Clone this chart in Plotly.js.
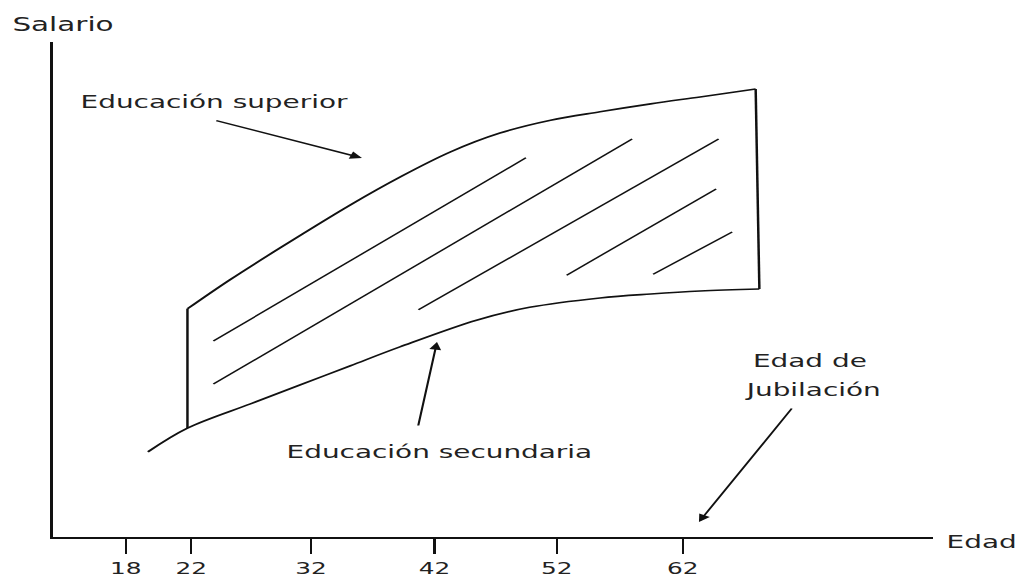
<!DOCTYPE html>
<html>
<head>
<meta charset="utf-8">
<script src="https://cdn.plot.ly/plotly-3.0.1.min.js"></script>
<style>
  html, body { margin: 0; padding: 0; overflow: hidden; background: #fff; }
  #plot { width: 659px; height: 579px; transform: scaleX(1.5493); transform-origin: 0 0; }
</style>
</head>
<body>
<div id="plot"></div>
<script>
// ---- data (age in years, salary in arbitrary index units) ----
const tickAges = [16.9, 22.2, 31.9, 41.9, 51.8, 62];
const tickLabels = ['18', '22', '32', '42', '52', '62'];

const upperAge    = [21.9, 25.3, 29.4, 35.1, 39.1, 43.2, 47.2, 51.3, 55.3, 59.4, 63.4, 67.9];
const upperSalary = [46.1, 51.9, 58.4, 67.1, 72.7, 77.8, 81.6, 84.2, 85.9, 87.5, 88.9, 90.5];

const lowerAge    = [18.7, 21.9, 27.0, 31.0, 35.1, 39.1, 45.3, 49.6, 55.3, 59.4, 63.4, 68.2];
const lowerSalary = [17.2, 22.0, 26.9, 30.7, 34.6, 38.4, 43.8, 46.4, 48.3, 49.1, 49.7, 50.1];

const leftEdgeAge = [21.9, 21.9];
const leftEdgeSalary = [22.0, 46.1];
const rightEdgeAge = [67.9, 68.2];
const rightEdgeSalary = [90.5, 50.1];

const hatchStartAge    = [24.0, 24.0, 40.6, 52.6, 59.6];
const hatchStartSalary = [39.6, 30.9, 45.9, 52.9, 53.1];
const hatchEndAge      = [49.3, 57.9, 64.9, 64.7, 66.0];
const hatchEndSalary   = [76.6, 80.4, 80.4, 70.3, 61.6];

const labelTexts  = ['Educación superior', 'Educación secundaria', 'Edad de', 'Jubilación'];
const labelAge    = [24.1, 42.3, 72.2, 72.55];
const labelSalary = [87.9, 17.2, 35.6, 29.9];

const arrowTailAge    = [24.05, 40.56, 70.92];
const arrowTailSalary = [84.24, 22.22, 26.26];
const arrowHeadAge    = [36.03, 42.10, 63.31];
const arrowHeadSalary = [76.57, 39.39, 3.03];

const axisTitleY = 'Salario';
const axisTitleX = 'Edad';

// ---- traces ----
const ink = '#111';
const traces = [];
traces.push({x: upperAge, y: upperSalary, mode: 'lines', line: {color: ink, width: 1.6, shape: 'spline', smoothing: 1}, hoverinfo: 'skip'});
traces.push({x: lowerAge, y: lowerSalary, mode: 'lines', line: {color: ink, width: 1.6, shape: 'spline', smoothing: 1}, hoverinfo: 'skip'});
traces.push({x: leftEdgeAge, y: leftEdgeSalary, mode: 'lines', line: {color: ink, width: 1.6}, hoverinfo: 'skip'});
traces.push({x: rightEdgeAge, y: rightEdgeSalary, mode: 'lines', line: {color: ink, width: 1.6}, hoverinfo: 'skip'});

const hx = [], hy = [];
for (let i = 0; i < hatchStartAge.length; i++) {
  hx.push(hatchStartAge[i], hatchEndAge[i], null);
  hy.push(hatchStartSalary[i], hatchEndSalary[i], null);
}
traces.push({x: hx, y: hy, mode: 'lines', line: {color: ink, width: 1.3}, hoverinfo: 'skip'});

const textFont = {family: 'DejaVu Sans', size: 18, color: '#222'};
const annotations = [];
for (let i = 0; i < labelTexts.length; i++) {
  annotations.push({x: labelAge[i], y: labelSalary[i], xref: 'x', yref: 'y', text: labelTexts[i],
    showarrow: false, font: textFont, xanchor: 'center', yanchor: 'middle'});
}
for (let i = 0; i < arrowTailAge.length; i++) {
  annotations.push({x: arrowHeadAge[i], y: arrowHeadSalary[i], ax: arrowTailAge[i], ay: arrowTailSalary[i],
    xref: 'x', yref: 'y', axref: 'x', ayref: 'y', text: '', showarrow: true,
    arrowhead: 2, arrowsize: 1.1, arrowwidth: 1.4, arrowcolor: ink, standoff: 0, startstandoff: 0});
}
annotations.push({x: 0.0123, y: 1.036, xref: 'paper', yref: 'paper', text: axisTitleY, showarrow: false,
  font: {family: 'DejaVu Sans', size: 19, color: '#222'}, xanchor: 'center', yanchor: 'middle'});
annotations.push({x: 1.056, y: -0.010, xref: 'paper', yref: 'paper', text: axisTitleX, showarrow: false,
  font: textFont, xanchor: 'center', yanchor: 'middle'});

const layout = {
  width: 659, height: 579,
  margin: {l: 34, r: 57, t: 42, b: 42, pad: 0},
  showlegend: false,
  paper_bgcolor: '#fff', plot_bgcolor: '#fff',
  xaxis: {range: [10.99, 82.23], showline: true, linewidth: 1.8, linecolor: ink,
    showgrid: false, zeroline: false, ticks: 'outside', ticklen: 15, tickwidth: 1.4, tickcolor: ink,
    tickmode: 'array', tickvals: tickAges, ticktext: tickLabels, ticklabelstandoff: 1,
    tickfont: {family: 'DejaVu Sans', size: 16, color: '#222'}, fixedrange: true},
  yaxis: {range: [0, 100], showline: true, linewidth: 1.8, linecolor: ink,
    showgrid: false, zeroline: false, ticks: '', showticklabels: false, fixedrange: true},
  annotations: annotations
};

Plotly.newPlot('plot', traces, layout, {staticPlot: true, displayModeBar: false});
</script>
</body>
</html>
